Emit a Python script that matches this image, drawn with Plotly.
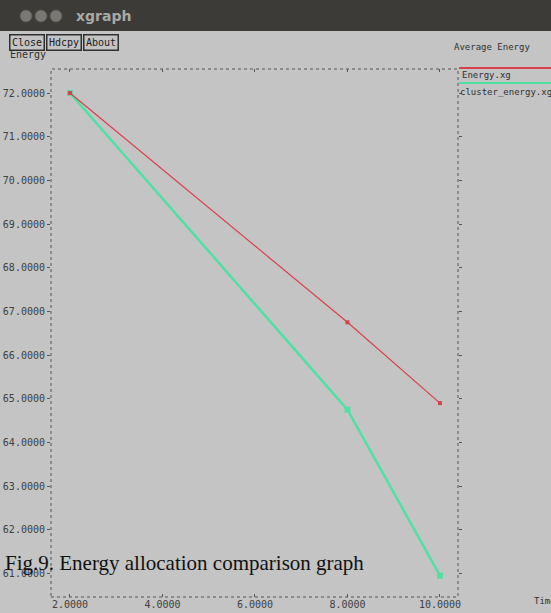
import plotly.graph_objects as go

# Average energy per time step for the two runs
time = [2, 8, 10]
energy = [72.0, 66.75, 64.90]
cluster_energy = [72.0, 64.75, 60.95]

x_ticks = [2, 4, 6, 8, 10]
y_ticks = [61, 62, 63, 64, 65, 66, 67, 68, 69, 70, 71, 72]

W, H = 551, 613
L, R, T, B = 51, 93, 69, 16
PW, PH = W - L - R, H - T - B

BG = "#c4c4c4"
MONO = "DejaVu Sans Mono"
RED = "#d8404a"
GREEN = "#4fe0a4"


def px(x):
    return (x - L) / PW


def py(y):
    return (H - B - y) / PH


fig = go.Figure()

fig.add_trace(go.Scatter(
    x=time, y=cluster_energy, mode="lines+markers",
    line=dict(color=GREEN, width=2.5),
    marker=dict(symbol="square", size=6, color=GREEN),
    name="cluster_energy.xg", showlegend=False,
))
fig.add_trace(go.Scatter(
    x=time, y=energy, mode="lines+markers",
    line=dict(color=RED, width=1.2),
    marker=dict(symbol="square", size=4, color=RED),
    name="Energy.xg", showlegend=False,
))

shapes = []
# dotted frame of the plotting area
shapes.append(dict(type="rect", xref="paper", yref="paper", x0=0, x1=1, y0=0, y1=1,
                   line=dict(color="#555555", width=1, dash="dot"), layer="above"))
# window title bar
shapes.append(dict(type="rect", xref="paper", yref="paper", x0=px(0), x1=px(W),
                   y0=py(31), y1=py(0), fillcolor="#3c3b37", line=dict(width=0)))
for cx in (26, 41, 56):
    shapes.append(dict(type="circle", xref="paper", yref="paper",
                       x0=px(cx - 6), x1=px(cx + 6), y0=py(16 + 6), y1=py(16 - 6),
                       fillcolor="#7a7873", line=dict(color="#5a5954", width=1)))
# legend swatches
shapes.append(dict(type="line", xref="paper", yref="paper", x0=px(459), x1=px(W),
                   y0=py(68), y1=py(68), line=dict(color=RED, width=2)))
shapes.append(dict(type="line", xref="paper", yref="paper", x0=px(459), x1=px(W),
                   y0=py(83), y1=py(83), line=dict(color=GREEN, width=2)))

annotations = []


def text(s, x, y, size=9, color="#303030", family=MONO, xanchor="left", **kw):
    annotations.append(dict(text=s, x=px(x), y=py(y), xref="paper", yref="paper",
                            showarrow=False, xanchor=xanchor, yanchor="middle",
                            font=dict(family=family, size=size, color=color), **kw))


text("<b>xgraph</b>", 74, 16, size=14, color="#a9a9a6", family="DejaVu Sans")
text("Energy", 8, 55, size=10)
for label, cx in (("Close", 27), ("Hdcpy", 64), ("About", 101)):
    text(label, cx, 42, size=10, color="#202020", xanchor="center",
         bgcolor=BG, bordercolor="#303030", borderwidth=1.5, borderpad=1.5)
text("Average Energy", 452, 47)
text("Energy.xg", 460, 75)
text("cluster_energy.xg", 458, 92)
text("Time", 532, 601)
text("Fig.9. Energy allocation comparison graph", 3, 563, size=21, color="#111111",
     family="Liberation Serif")

fig.update_layout(
    width=W, height=H,
    margin=dict(l=L, r=R, t=T, b=B, pad=0, autoexpand=False),
    paper_bgcolor=BG, plot_bgcolor=BG,
    shapes=shapes, annotations=annotations,
    showlegend=False,
)
fig.update_xaxes(
    range=[1.59, 10.39], tickvals=x_ticks, tickformat=".4f",
    ticks="inside", ticklen=3, tickcolor="#555555", mirror="ticks",
    showgrid=False, zeroline=False, showline=False, automargin=False,
    tickfont=dict(family=MONO, size=10, color="#404040"),
)
fig.update_yaxes(
    range=[60.46, 72.55], tickvals=y_ticks, tickformat=".4f",
    ticks="outside", ticklen=3, tickcolor="#555555", mirror="ticks",
    showgrid=False, zeroline=False, showline=False, automargin=False,
    tickfont=dict(family=MONO, size=10, color="#404040"),
)

fig.write_html("out.html")
